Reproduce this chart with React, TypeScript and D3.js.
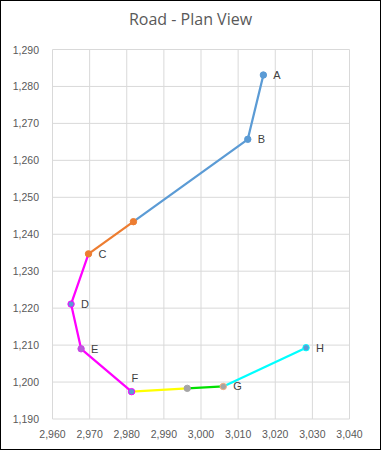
import React from "react";
import * as d3 from "d3";

const xTicks = [2960, 2970, 2980, 2990, 3000, 3010, 3020, 3030, 3040];
const yTicks = [1190, 1200, 1210, 1220, 1230, 1240, 1250, 1260, 1270, 1280, 1290];

const seriesBlue = [
  { x: 3016.8, y: 1283.1 },
  { x: 3012.6, y: 1265.7 },
  { x: 2981.8, y: 1243.4 },
];
const seriesOrange = [
  { x: 2981.8, y: 1243.4 },
  { x: 2969.7, y: 1234.7 },
];
const seriesMagenta = [
  { x: 2969.7, y: 1234.7 },
  { x: 2965.0, y: 1221.1 },
  { x: 2967.7, y: 1209.0 },
  { x: 2981.3, y: 1197.4 },
];
const seriesYellow = [
  { x: 2981.3, y: 1197.4 },
  { x: 2996.3, y: 1198.3 },
];
const seriesGreen = [
  { x: 2996.3, y: 1198.3 },
  { x: 3006.0, y: 1198.8 },
];
const seriesCyan = [
  { x: 3006.0, y: 1198.8 },
  { x: 3028.3, y: 1209.3 },
];

const pointLabels = [
  { name: "A", x: 3016.8, y: 1283.1, dx: 10, dy: 0 },
  { name: "B", x: 3012.6, y: 1265.7, dx: 10, dy: 0 },
  { name: "C", x: 2969.7, y: 1234.7, dx: 10, dy: 0 },
  { name: "D", x: 2965.0, y: 1221.1, dx: 10, dy: 0 },
  { name: "E", x: 2967.7, y: 1209.0, dx: 10, dy: 0 },
  { name: "F", x: 2981.3, y: 1197.4, dx: 0, dy: -14 },
  { name: "G", x: 3006.0, y: 1198.8, dx: 10, dy: 0 },
  { name: "H", x: 3028.3, y: 1209.3, dx: 10, dy: 0 },
];

const W = 381;
const H = 450;
const left = 52.5, right = 349.5, top = 49.5, bottom = 419;

export default function App() {
  const x = d3.scaleLinear().domain([2960, 3040]).range([left, right]);
  const y = d3.scaleLinear().domain([1190, 1290]).range([bottom, top]);
  const line = d3
    .line<{ x: number; y: number }>()
    .x((d) => x(d.x))
    .y((d) => y(d.y));

  const fmt = d3.format(",");
  const series = [
    { data: seriesBlue, color: "#5B9BD5" },
    { data: seriesOrange, color: "#ED7D31" },
    { data: seriesMagenta, color: "#FF00FF" },
    { data: seriesYellow, color: "#FFFF00" },
    { data: seriesGreen, color: "#00E000" },
    { data: seriesCyan, color: "#00FFFF" },
  ];

  const markers = [
    { p: seriesBlue[0], fill: "#5B9BD5", stroke: "#5B9BD5" },
    { p: seriesBlue[1], fill: "#5B9BD5", stroke: "#5B9BD5" },
    { p: seriesOrange[0], fill: "#ED7D31", stroke: "#ED7D31" },
    { p: seriesOrange[1], fill: "#ED7D31", stroke: "#ED7D31" },
    { p: seriesMagenta[1], fill: "#5B9BD5", stroke: "#FF00FF" },
    { p: seriesMagenta[2], fill: "#B65FD8", stroke: "#D040E8" },
    { p: seriesMagenta[3], fill: "#5B9BD5", stroke: "#FF00FF" },
    { p: seriesYellow[1], fill: "#A5A5A5", stroke: "#A5A5A5" },
    { p: seriesGreen[1], fill: "#A5A5A5", stroke: "#F4B183" },
    { p: seriesCyan[1], fill: "#5B9BD5", stroke: "#00FFFF" },
  ];

  return (
    <svg
      width={W}
      height={H}
      style={{ position: "absolute", left: 0, top: 0, background: "#fff" }}
      fontFamily="'Liberation Sans', Arial, sans-serif"
    >
      <rect x={0.5} y={0.5} width={W - 1} height={H - 1} fill="#fff" stroke="#000" />
      <text x={190.5} y={25} textAnchor="middle" fontSize={16} fill="#595959" fontFamily="'Open Sans', sans-serif">
        Road - Plan View
      </text>
      {xTicks.map((t) => (
        <line key={"gx" + t} x1={x(t)} x2={x(t)} y1={top} y2={bottom} stroke="#D9D9D9" strokeWidth={1} />
      ))}
      {yTicks.map((t) => (
        <line key={"gy" + t} x1={left} x2={right} y1={y(t)} y2={y(t)} stroke="#D9D9D9" strokeWidth={1} />
      ))}
      {yTicks.map((t) => (
        <text key={"ty" + t} x={39} y={y(t) + 4} textAnchor="end" fontSize={10.5} fill="#595959">
          {fmt(t)}
        </text>
      ))}
      {xTicks.map((t) => (
        <text key={"tx" + t} x={x(t)} y={438} textAnchor="middle" fontSize={10.5} fill="#595959">
          {fmt(t)}
        </text>
      ))}
      {series.map((s, i) => (
        <path key={"s" + i} d={line(s.data) || ""} fill="none" stroke={s.color} strokeWidth={2.25} strokeLinejoin="round" />
      ))}
      {markers.map((m, i) => (
        <circle key={"m" + i} cx={x(m.p.x)} cy={y(m.p.y)} r={3.2} fill={m.fill} stroke={m.stroke} strokeWidth={1} />
      ))}
      {pointLabels.map((l) => (
        <text key={l.name} x={x(l.x) + l.dx} y={y(l.y) + l.dy + 4} fontSize={11} fill="#404040">
          {l.name}
        </text>
      ))}
    </svg>
  );
}
